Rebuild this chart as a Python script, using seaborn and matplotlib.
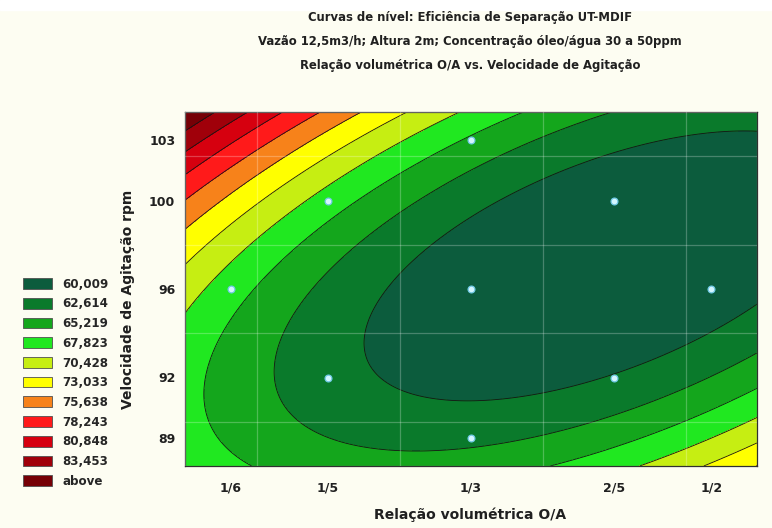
import numpy as np
import pandas as pd
import matplotlib
matplotlib.use("Agg")
import matplotlib.pyplot as plt
from matplotlib.patches import Patch, Rectangle
from matplotlib.ticker import MultipleLocator
import seaborn as sns

# ---- data -------------------------------------------------------------
# central composite design (coded levels), alpha = 1.68
alpha = 1.68
x_coded = [-alpha, -1, -1, 0, 0, 0, 1, 1, alpha]
y_coded = [0, -1, 1, -alpha, 0, alpha, -1, 1, 0]
# separation efficiency at each design point
efficiency = [66.41, 61.08, 66.67, 61.97, 58.07, 64.82, 60.20, 58.01, 58.39]

x_tick_pos = [-alpha, -1, 0, 1, alpha]
x_tick_labels = ["1/6", "1/5", "1/3", "2/5", "1/2"]
y_tick_pos = [-alpha, -1, 0, 1, alpha]
y_tick_labels = ["89", "92", "96", "100", "103"]

levels = [60.009, 62.614, 65.219, 67.823, 70.428, 73.033, 75.638,
          78.243, 80.848, 83.453]
colors = ["#0c5c3d", "#0a7a2b", "#14a61c", "#20e820", "#c6ee12", "#ffff00",
          "#f7821a", "#ff1a1a", "#d6000f", "#a0000a", "#760006"]

title_lines = ["Curvas de nível: Eficiência de Separação UT-MDIF",
               "Vazão 12,5m3/h; Altura 2m; Concentração óleo/água 30 a 50ppm",
               "Relação volumétrica O/A vs. Velocidade de Agitação"]
x_label = "Relação volumétrica O/A"
y_label = "Velocidade de Agitação rpm"

# ---- fitted quadratic response surface -------------------------------
df = pd.DataFrame({"x": x_coded, "y": y_coded, "eff": efficiency})
X = np.column_stack([np.ones(len(df)), df.x, df.y, df.x**2, df.y**2, df.x*df.y])
coef, *_ = np.linalg.lstsq(X, df.eff.values, rcond=None)
g = np.linspace(-2, 2, 400)
GX, GY = np.meshgrid(g, g)
GZ = (coef[0] + coef[1]*GX + coef[2]*GY + coef[3]*GX**2 + coef[4]*GY**2
      + coef[5]*GX*GY)

# ---- figure -----------------------------------------------------------
sns.set_style("white")
plt.rcParams["font.family"] = ["DejaVu Sans"]
bg = "#fdfdf2"
txt_col = "#202020"
fig = plt.figure(figsize=(7.72, 5.28), dpi=100, facecolor=bg)
fig.patches.append(Rectangle((0, 1 - 10/528), 1, 10/528, transform=fig.transFigure,
                             color="white", zorder=0))
ax = fig.add_axes([185/772, 1 - 466/528, (757-185)/772, (466-112)/528])

fill_levels = [min(GZ.min(), levels[0]) - 1] + levels + [max(GZ.max(), levels[-1]) + 1]
ax.contourf(GX, GY, GZ, levels=fill_levels, colors=colors, zorder=1)
ax.contour(GX, GY, GZ, levels=levels, colors="#141414", linewidths=0.6, zorder=2)

ax.xaxis.set_minor_locator(MultipleLocator(0.5))
ax.yaxis.set_minor_locator(MultipleLocator(0.5))
ax.grid(which="minor", color="white", alpha=0.25, linewidth=0.9, zorder=3)
ax.set_axisbelow(False)

sns.scatterplot(data=df, x="x", y="y", ax=ax, s=24, color="#d4f6ff",
                edgecolor="#6fc8e4", linewidth=0.9, zorder=5, legend=False)

ax.set_xlim(-2, 2)
ax.set_ylim(-2, 2)
ax.set_xticks(x_tick_pos)
ax.set_xticklabels(x_tick_labels)
ax.set_yticks(y_tick_pos)
ax.set_yticklabels(y_tick_labels)
ax.tick_params(axis="both", which="both", length=0, labelsize=9, colors=txt_col)
ax.tick_params(axis="x", pad=11)
ax.tick_params(axis="y", pad=7)
for lab in ax.get_xticklabels() + ax.get_yticklabels():
    lab.set_fontweight("bold")
ax.set_xlabel("")
ax.set_ylabel("")
for s in ax.spines.values():
    s.set_color("#303030")
    s.set_linewidth(0.9)

cx = 470/772
for i, line in enumerate(title_lines):
    fig.text(cx, 1 - (17 + 24.5*i)/528, line, ha="center", va="center",
             fontsize=8.4, fontweight="bold", color=txt_col)
fig.text(cx, 1 - 515/528, x_label, ha="center", va="center", fontsize=10,
         fontweight="bold", color=txt_col)
fig.text(128/772, 1 - 299/528, y_label, ha="center", va="center", fontsize=10,
         fontweight="bold", color=txt_col, rotation=90)

labels = [f"{v:.3f}".replace(".", ",") for v in levels] + ["above"]
handles = [Patch(facecolor=c, edgecolor="#505050", linewidth=0.6) for c in colors]
fig.legend(handles, labels, loc="upper left", bbox_to_anchor=(0.023, 1 - 273/528),
           frameon=False, handlelength=2.5, handleheight=1.0,
           labelspacing=0.56, handletextpad=0.85, borderaxespad=0,
           prop={"weight": "bold", "size": 8.6})

fig.savefig("out.png", dpi=100, facecolor=bg)
